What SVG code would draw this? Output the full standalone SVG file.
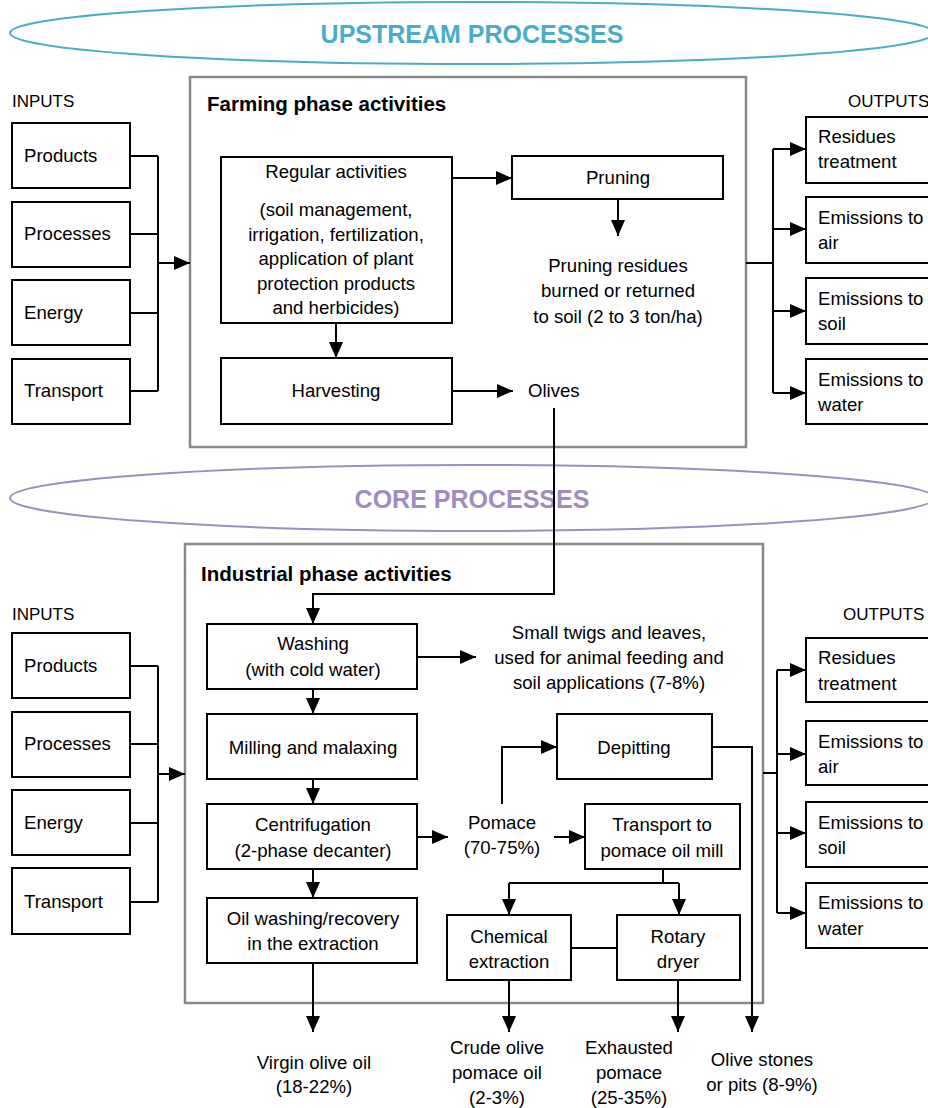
<svg xmlns="http://www.w3.org/2000/svg" width="928" height="1108" viewBox="0 0 928 1108">
<style>
text{font-family:"Liberation Sans",Arial,sans-serif;font-size:18.6px;fill:#000}
.c{text-anchor:middle}
.b{fill:#fff;stroke:#000;stroke-width:2}
.f{fill:none;stroke:#888;stroke-width:2.5}
.t{font-weight:bold;font-size:20.5px}
.l{font-size:17px}
.conn path{fill:none;stroke:#000;stroke-width:2}
</style>
<defs>
<marker id="a" markerWidth="16" markerHeight="14" refX="16" refY="7" orient="auto" markerUnits="userSpaceOnUse">
<path d="M0,0 L16,7 L0,14 Z" fill="#000"/>
</marker>
</defs>
<rect width="928" height="1108" fill="#fff"/>

<g id="upstream">
<ellipse cx="472" cy="33" rx="462" ry="31" fill="none" stroke="#4bacc6" stroke-width="2"/>
<text x="472" y="43" class="c" style="font-size:25px;font-weight:bold;fill:#4bacc6">UPSTREAM PROCESSES</text>
</g>
<g id="core">
<ellipse cx="472" cy="498" rx="462" ry="33" fill="none" stroke="#a08cc0" stroke-width="2"/>
<text x="472" y="508" class="c" style="font-size:25px;font-weight:bold;fill:#a08cc0">CORE PROCESSES</text>
</g>

<g id="farming-frame">
<rect x="190" y="77" width="556" height="370" class="f"/>
<text x="207" y="111" class="t">Farming phase activities</text>
</g>
<g id="industrial-frame">
<rect x="185" y="544" width="578" height="459" class="f"/>
<text x="201" y="581" class="t">Industrial phase activities</text>
</g>

<g id="inputs-top">
<text x="12" y="107" class="l">INPUTS</text>
<g id="in1-products"><rect x="12" y="123" width="118" height="65" class="b"/><text x="24" y="162">Products</text></g>
<g id="in1-processes"><rect x="12" y="202" width="118" height="65" class="b"/><text x="24" y="240">Processes</text></g>
<g id="in1-energy"><rect x="12" y="280" width="118" height="65" class="b"/><text x="24" y="319">Energy</text></g>
<g id="in1-transport"><rect x="12" y="359" width="118" height="65" class="b"/><text x="24" y="397">Transport</text></g>
</g>

<g id="outputs-top">
<text x="848" y="107" class="l">OUTPUTS</text>
<g id="out1-residues"><rect x="806" y="117" width="140" height="66" class="b"/><text x="818" y="143">Residues</text><text x="818" y="168">treatment</text></g>
<g id="out1-air"><rect x="806" y="197" width="140" height="66" class="b"/><text x="818" y="224">Emissions to</text><text x="818" y="249">air</text></g>
<g id="out1-soil"><rect x="806" y="278" width="140" height="66" class="b"/><text x="818" y="305">Emissions to</text><text x="818" y="330">soil</text></g>
<g id="out1-water"><rect x="806" y="359" width="140" height="65" class="b"/><text x="818" y="386">Emissions to</text><text x="818" y="411">water</text></g>
</g>

<g id="regular">
<rect x="221" y="157" width="231" height="166" class="b"/>
<text x="336" y="178" class="c">Regular activities</text>
<text x="336" y="216" class="c">(soil management,</text>
<text x="336" y="241" class="c">irrigation, fertilization,</text>
<text x="336" y="265" class="c">application of plant</text>
<text x="336" y="290" class="c">protection products</text>
<text x="336" y="314" class="c">and herbicides)</text>
</g>
<g id="harvesting"><rect x="221" y="358" width="231" height="66" class="b"/><text x="336" y="397" class="c">Harvesting</text></g>
<g id="pruning"><rect x="512" y="156" width="211" height="43" class="b"/><text x="618" y="184" class="c">Pruning</text></g>
<g id="pruning-residues">
<text x="618" y="272" class="c">Pruning residues</text>
<text x="618" y="297" class="c">burned or returned</text>
<text x="618" y="323" class="c">to soil (2 to 3 ton/ha)</text>
</g>
<g id="olives"><text x="528" y="397">Olives</text></g>

<g id="inputs-bottom">
<text x="12" y="620" class="l">INPUTS</text>
<g id="in2-products"><rect x="12" y="633" width="118" height="65" class="b"/><text x="24" y="672">Products</text></g>
<g id="in2-processes"><rect x="12" y="712" width="118" height="65" class="b"/><text x="24" y="750">Processes</text></g>
<g id="in2-energy"><rect x="12" y="790" width="118" height="65" class="b"/><text x="24" y="829">Energy</text></g>
<g id="in2-transport"><rect x="12" y="868" width="118" height="66" class="b"/><text x="24" y="908">Transport</text></g>
</g>

<g id="outputs-bottom">
<text x="843" y="620" class="l">OUTPUTS</text>
<g id="out2-residues"><rect x="806" y="638" width="140" height="64" class="b"/><text x="818" y="664">Residues</text><text x="818" y="690">treatment</text></g>
<g id="out2-air"><rect x="806" y="721" width="140" height="64" class="b"/><text x="818" y="748">Emissions to</text><text x="818" y="773">air</text></g>
<g id="out2-soil"><rect x="806" y="802" width="140" height="65" class="b"/><text x="818" y="829">Emissions to</text><text x="818" y="854">soil</text></g>
<g id="out2-water"><rect x="806" y="883" width="140" height="65" class="b"/><text x="818" y="909">Emissions to</text><text x="818" y="935">water</text></g>
</g>

<g id="washing"><rect x="207" y="624" width="210" height="65" class="b"/><text x="313" y="650" class="c">Washing</text><text x="313" y="676" class="c">(with cold water)</text></g>
<g id="milling"><rect x="207" y="714" width="210" height="65" class="b"/><text x="313" y="754" class="c">Milling and malaxing</text></g>
<g id="centrifugation"><rect x="207" y="804" width="210" height="65" class="b"/><text x="313" y="831" class="c">Centrifugation</text><text x="313" y="857" class="c">(2-phase decanter)</text></g>
<g id="oil-washing"><rect x="207" y="898" width="210" height="65" class="b"/><text x="313" y="925" class="c">Oil washing/recovery</text><text x="313" y="950" class="c">in the extraction</text></g>
<g id="twigs">
<text x="609" y="639" class="c">Small twigs and leaves,</text>
<text x="609" y="664" class="c">used for animal feeding and</text>
<text x="609" y="689" class="c">soil applications (7-8%)</text>
</g>
<g id="depitting"><rect x="557" y="714" width="155" height="65" class="b"/><text x="634" y="754" class="c">Depitting</text></g>
<g id="pomace"><text x="502" y="829" class="c">Pomace</text><text x="502" y="854" class="c">(70-75%)</text></g>
<g id="transport-mill"><rect x="585" y="804" width="155" height="65" class="b"/><text x="662" y="831" class="c">Transport to</text><text x="662" y="857" class="c">pomace oil mill</text></g>
<g id="chemical"><rect x="447" y="915" width="124" height="65" class="b"/><text x="509" y="943" class="c">Chemical</text><text x="509" y="968" class="c">extraction</text></g>
<g id="rotary"><rect x="617" y="915" width="123" height="65" class="b"/><text x="678" y="943" class="c">Rotary</text><text x="678" y="968" class="c">dryer</text></g>

<g id="products-out">
<text x="314" y="1069" class="c">Virgin olive oil</text>
<text x="314" y="1093" class="c">(18-22%)</text>
<text x="497" y="1054" class="c">Crude olive</text>
<text x="497" y="1079" class="c">pomace oil</text>
<text x="497" y="1104" class="c">(2-3%)</text>
<text x="629" y="1054" class="c">Exhausted</text>
<text x="629" y="1079" class="c">pomace</text>
<text x="629" y="1104" class="c">(25-35%)</text>
<text x="762" y="1066" class="c">Olive stones</text>
<text x="762" y="1091" class="c">or pits (8-9%)</text>
</g>

<g id="connectors" class="conn">
<path d="M130,156 H158 M130,234 H158 M130,313 H158 M130,391 H158 M158,156 V391"/>
<path d="M158,263 H190" marker-end="url(#a)"/>
<path d="M746,263 H773 M773,149 V393"/>
<path d="M773,149 H806" marker-end="url(#a)"/>
<path d="M773,229 H806" marker-end="url(#a)"/>
<path d="M773,311 H806" marker-end="url(#a)"/>
<path d="M773,393 H806" marker-end="url(#a)"/>
<path d="M452,178 H512" marker-end="url(#a)"/>
<path d="M618,199 V236" marker-end="url(#a)"/>
<path d="M336,323 V358" marker-end="url(#a)"/>
<path d="M452,391 H513" marker-end="url(#a)"/>
<path d="M554,408 V594 H313 V624" marker-end="url(#a)"/>
<path d="M130,666 H158 M130,744 H158 M130,823 H158 M130,902 H158 M158,666 V902"/>
<path d="M158,774 H185" marker-end="url(#a)"/>
<path d="M763,773 H777 M777,670 V913"/>
<path d="M777,670 H806" marker-end="url(#a)"/>
<path d="M777,754 H806" marker-end="url(#a)"/>
<path d="M777,833 H806" marker-end="url(#a)"/>
<path d="M777,913 H806" marker-end="url(#a)"/>
<path d="M313,689 V714" marker-end="url(#a)"/>
<path d="M313,779 V804" marker-end="url(#a)"/>
<path d="M313,869 V898" marker-end="url(#a)"/>
<path d="M417,657 H476" marker-end="url(#a)"/>
<path d="M417,837 H448" marker-end="url(#a)"/>
<path d="M554,837 H585" marker-end="url(#a)"/>
<path d="M502,804 V747 H557" marker-end="url(#a)"/>
<path d="M663,869 V883 M509,883 H679"/>
<path d="M509,883 V915" marker-end="url(#a)"/>
<path d="M679,883 V915" marker-end="url(#a)"/>
<path d="M571,948 H617"/>
<path d="M712,747 H752 V1032" marker-end="url(#a)"/>
<path d="M313,963 V1032" marker-end="url(#a)"/>
<path d="M509,980 V1032" marker-end="url(#a)"/>
<path d="M678,980 V1032" marker-end="url(#a)"/>
</g>
</svg>
